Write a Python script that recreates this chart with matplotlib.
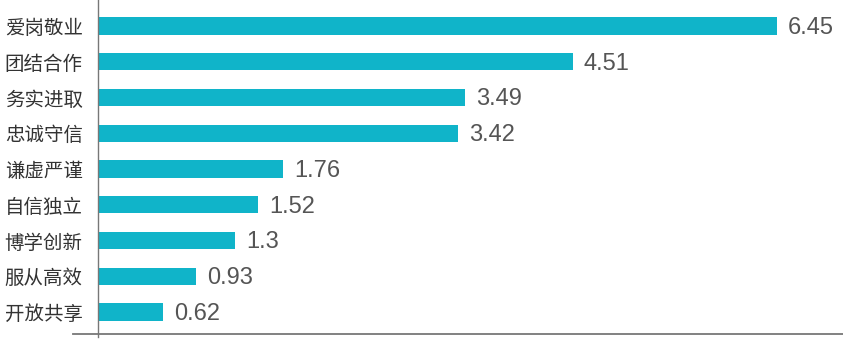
import matplotlib.pyplot as plt
from matplotlib.lines import Line2D

plt.rcParams['font.family'] = ['Noto Sans CJK SC', 'DejaVu Sans']

categories = ['爱岗敬业', '团结合作', '务实进取', '忠诚守信', '谦虚严谨',
              '自信独立', '博学创新', '服从高效', '开放共享']
values = [6.45, 4.51, 3.49, 3.42, 1.76, 1.52, 1.3, 0.93, 0.62]
value_labels = ['6.45', '4.51', '3.49', '3.42', '1.76', '1.52', '1.3', '0.93', '0.62']

W, H = 843, 340
fig = plt.figure(figsize=(W / 100, H / 100), dpi=100)
ax = fig.add_axes([98 / W, 6 / H, 1 - 98 / W, 1 - 6 / H])

pos = list(range(len(categories)))
bars = ax.barh(pos, values, height=0.48, color='#10B4C9')
ax.set_ylim(8.615, -0.727)
ax.set_xlim(0, 7.077)

for b, lab in zip(bars, value_labels):
    ax.annotate(lab, (b.get_width(), b.get_y() + b.get_height() / 2 + 0.05),
                xytext=(8, 0), textcoords='offset points', va='center', ha='left',
                fontsize=17, color='#555555', family=['Liberation Sans', 'DejaVu Sans'])

ax.set_yticks(pos)
ax.set_yticklabels(categories, fontsize=14, color='#333333')
ax.tick_params(axis='y', length=0, pad=11)
ax.set_xticks([])
for s in ax.spines.values():
    s.set_visible(False)

# axis lines
fig.add_artist(Line2D([73 / W, 1], [6 / H, 6 / H], color='#777777', lw=1.3))
fig.add_artist(Line2D([98 / W, 98 / W], [3 / H, 1], color='#777777', lw=1.0))

fig.savefig('out.png', dpi=100, facecolor='white')
